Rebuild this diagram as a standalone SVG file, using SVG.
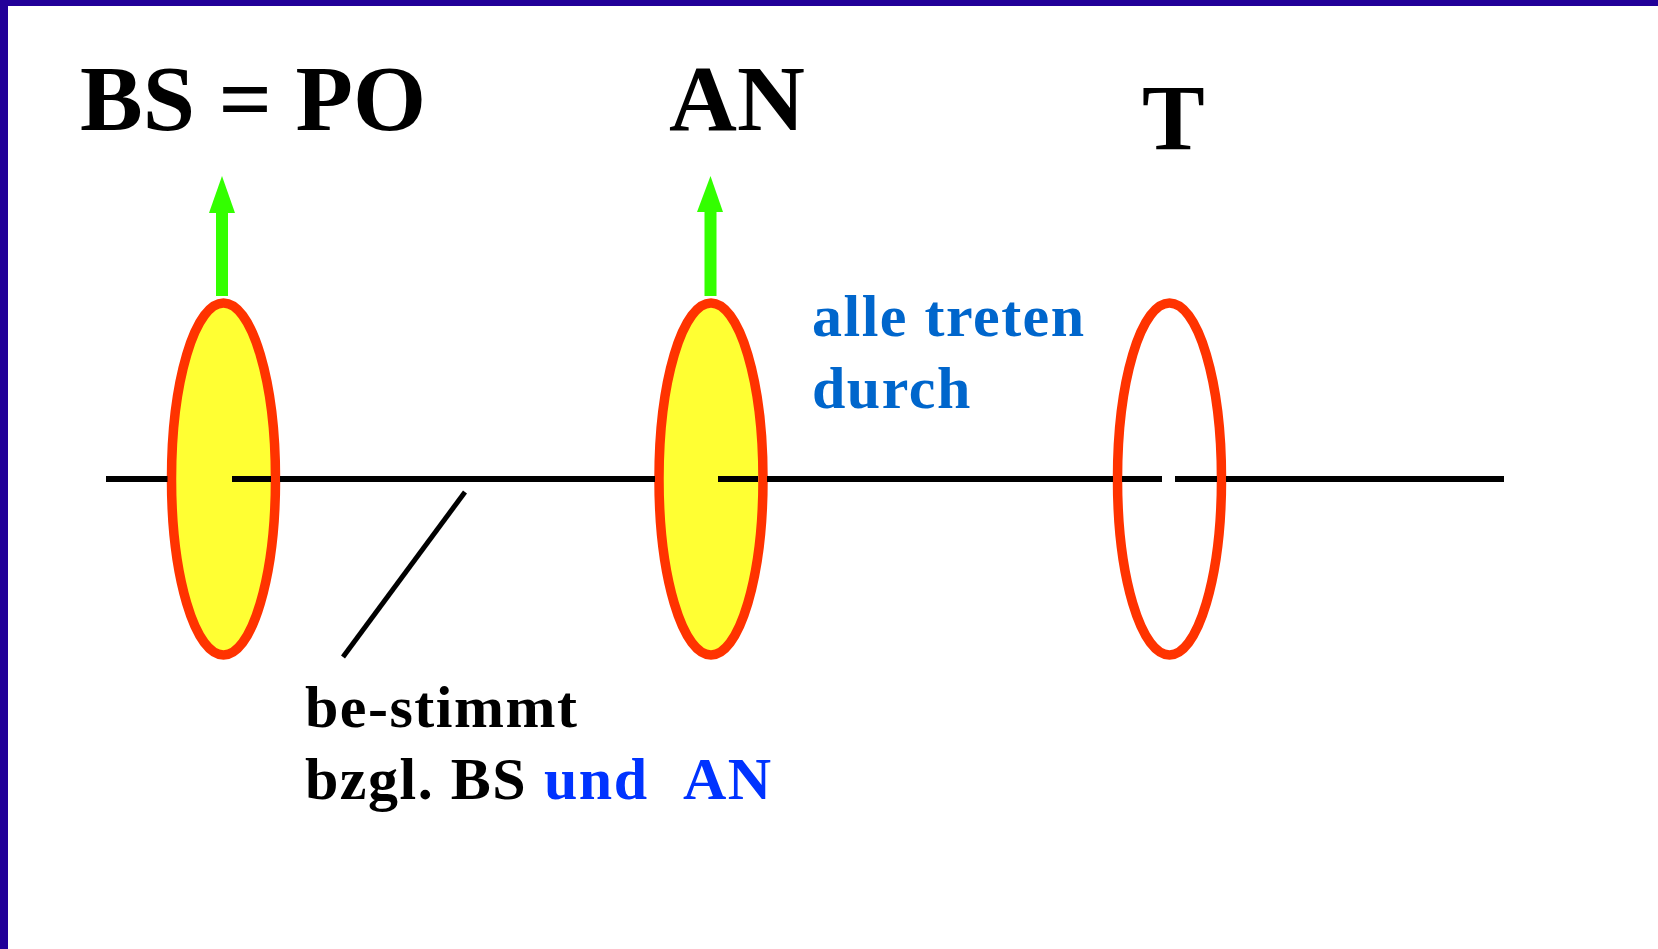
<svg xmlns="http://www.w3.org/2000/svg" width="1658" height="949" viewBox="0 0 1658 949">
<style>
.t{font-family:"Liberation Serif","Times New Roman",serif;font-weight:bold}
.big{font-size:94px;fill:#000}
.mid{font-size:60px;letter-spacing:1.5px}
.ell{stroke:#FF3300;stroke-width:9.5}
.ax{stroke:#000;stroke-width:6;fill:none}
.arr{fill:#33FF00}
</style>
<rect x="0" y="0" width="1658" height="949" fill="#fff"/>
<rect x="0" y="0" width="1658" height="6" fill="#220099"/>
<rect x="0" y="0" width="8" height="949" fill="#220099"/>

<g id="label-bs-po"><text class="t big" x="80" y="130">BS = PO</text></g>
<g id="label-an"><text class="t big" x="669" y="130">AN</text></g>
<g id="label-t"><text class="t big" x="1142" y="149">T</text></g>

<g id="node-bs">
<ellipse class="ell" cx="223.5" cy="479" rx="52" ry="176" fill="#FFFF33"/>
<rect class="arr" x="216" y="210" width="12" height="86"/>
<polygon class="arr" points="222,176 235,213 209,213"/>
</g>
<g id="node-an">
<ellipse class="ell" cx="711" cy="479" rx="52" ry="176" fill="#FFFF33"/>
<rect class="arr" x="704.5" y="210" width="12" height="86"/>
<polygon class="arr" points="710.5,176 723,212 697,212"/>
</g>
<g id="node-t">
<ellipse class="ell" cx="1169.5" cy="479" rx="52" ry="176" fill="none"/>
</g>

<g id="connectors">
<path class="ax" d="M106 479H167.5M232 479H271M280 479H655M718 479H758M767 479H1113M1122 479H1162M1175 479H1217M1226 479H1504"/>
<line x1="465" y1="492" x2="343" y2="657" stroke="#000" stroke-width="5"/>
</g>

<g id="label-alle">
<text class="t mid" fill="#0066CC" x="812" y="336">alle treten</text>
<text class="t mid" fill="#0066CC" x="812" y="408">durch</text>
</g>
<g id="label-bestimmt">
<text class="t mid" fill="#000" x="305" y="727">be-stimmt</text>
<text class="t mid" y="799"><tspan fill="#000" x="305">bzgl. BS</tspan><tspan fill="#0033FF" x="544">und</tspan><tspan fill="#0033FF" x="683">AN</tspan></text>
</g>
</svg>
